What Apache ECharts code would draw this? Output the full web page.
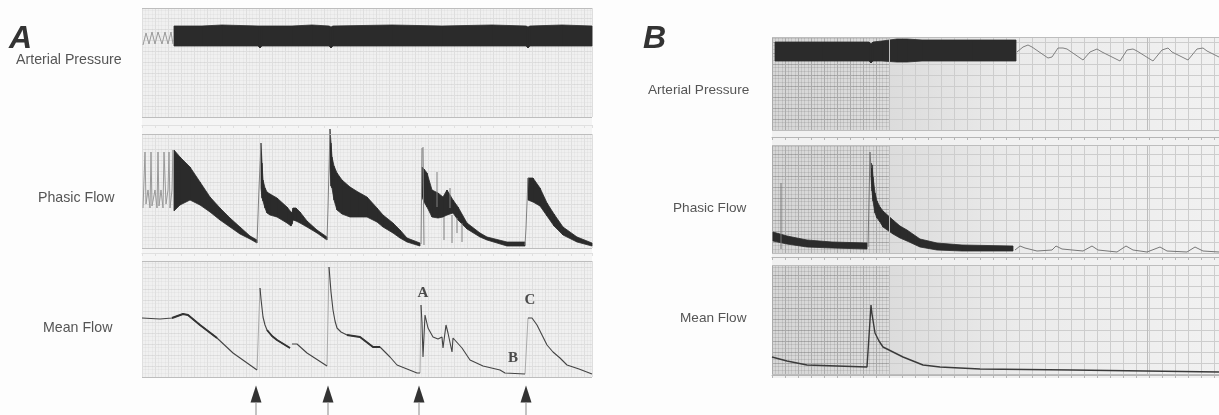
<!DOCTYPE html>
<html><head><meta charset="utf-8">
<style>html,body{margin:0;padding:0;background:#fdfdfd}#c{width:1219px;height:415px;filter:blur(.45px)}</style>
<script src="https://cdn.jsdelivr.net/npm/echarts@6/dist/echarts.min.js"></script>
</head><body><div id="c"></div>
<script>
// All values are in recorder-paper units: [time, level] or [time, lower envelope, upper envelope]
const pressureZigA=[[1,72],[4,84],[7,73],[10,85],[13,73],[16,85],[20,73],[23,85],[26,73],[29,85],[31,73]];
const pressureBandA=[[32,71,91],[60,71,91],[80,71,92],[116,71,91],[118,69,91],[120,71,91],[150,71,91],[170,71,92],[187,71,91],[189,69,90],[191,71,91],[250,71,92],[300,71,91],[350,71,92],[384,71,91],[386,69,90],[388,71,91],[420,71,92],[450,71,91]];
const phasicZigA=[[1,40],[3,96],[4,44],[6,58],[8,40],[9,96],[10,42],[13,58],[15,40],[16,96],[17,42],[19,58],[21,40],[22,96],[24,44],[26,58],[27,96],[28,40],[30,58],[31,98],[31.5,38]];
const phasicBandsA=[
 [[32,37,98],[38,43,91],[48,48,81],[58,43,66],[68,36,51],[78,28,40],[88,21,30],[98,14,21],[108,9,12],[115,5,8]],
 [[119,60,105],[120,50,85],[121,47,68],[123,40,60],[125,35,56],[128,33,54],[135,31,50],[145,25,41],[149,22,36],[150,24,35],[151,28,40],[154,27,40],[158,25,36],[165,21,27],[175,15,18],[185,8,11]],
 [[188,80,119],[189,62,105],[190,60,91],[192,48,82],[195,38,75],[200,34,68],[208,31,61],[216,31,56],[225,31,51],[235,26,40],[241,21,33],[251,15,25],[258,10,18],[265,6,10],[278,2,5]],
 [[280,51,81],[282,46,79],[285,41,75],[290,31,58],[296,30,55],[301,31,51],[305,33,58],[311,35,48],[316,28,41],[325,19,25],[338,11,15],[345,8,11],[365,2,6],[383,2,6]],
 [[386,48,70],[391,46,70],[398,42,60],[405,32,45],[412,22,34],[421,13,21],[435,6,11],[450,2,5]]
];
const gap=[null,null];
const phasicThinA=[[115,5],[117,60],[119,105],gap,[185,8],[186,40],[188,119],gap,[279,4],[280,100],gap,[281,101],[282,3],gap,[295,76],[295,41],gap,[302,8],[302,31],gap,[308,60],[308,40],gap,[310,5],[310,33],gap,[315,15],[315,30],gap,[320,6],[320,25],gap,[383,3],[384,20],[386,70]];
const meanA=[[0,59],[18,58],[30,59],[41,63],[46,62],[58,52],[75,39],[91,24],[115,7],gap,[118,89],[119,78],[121,60],[123,52],[125,47],[130,41],[135,37],[148,29],gap,[150,33],[155,33],[165,24],[185,11],gap,[187,110],[189,85],[191,67],[193,56],[195,49],[199,45],[205,42],[218,40],[231,30],[238,30],[248,20],[255,12],[275,4],[278,4],gap,[279,72],[280,54],[281,20],[283,62],[286,49],[291,40],[296,38],[300,40],[301,29],[304,52],[306,44],[310,25],[311,39],[320,29],[328,17],[341,11],[358,7],[363,4],[383,3],gap,[386,59],[390,59],[395,52],[400,42],[405,32],[411,25],[418,19],[425,12],[437,8],[450,3]];
const meanThickA=[[30,59],[41,63],[46,62],[58,52],[75,39],gap,[125,47],[130,41],[135,37],[148,29],gap,[205,42],[218,40],[231,30],[238,30]];
const meanRisesA=[[115,7],[118,89],gap,[185,11],[187,110],gap,[278,4],[279,72],gap,[383,3],[386,59]];
const eventTimesA=[114,186,277,384];

const pressureBandB=[[3,69,88],[50,69,88],[97,69,88],[99,67,86],[101,69,88],[110,69,89],[125,68,91],[135,68,91],[150,69,90],[200,69,90],[244,69,90]];
const pressureThinB=[[245,78],[251,83],[256,85],[260,83],[276,72],[280,73],[286,82],[291,82],[293,80],[295,81],[311,70],[318,78],[325,81],[330,78],[348,69],[355,80],[361,81],[365,79],[381,69],[390,80],[396,82],[400,78],[416,70],[425,81],[431,82],[435,79],[447,73]];
const phasicBandsB=[
 [[1,12,21],[15,9,17],[35,6,13],[60,5,11],[95,4,10]],
 [[99,77,90],[100,62,88],[101,52,76],[103,40,60],[105,35,52],[108,31,46],[111,26,42],[121,19,33],[128,15,27],[135,12,23],[148,6,14],[165,3,10],[190,2,8],[241,2,7]]
];
const phasicThinB=[[9,4],[9,70],gap,[96,6],[98,101],[99,85],gap,[243,3],[248,7],[253,5],[265,2],[280,3],[284,7],[290,4],[311,2],[320,7],[326,3],[345,1],[354,7],[361,3],[375,1],[388,6],[395,2],[415,1],[423,6],[431,2],[447,1]];
const meanB=[[0,17],[15,13],[35,9],[95,7],[99,69],[100,60],[103,41],[107,33],[111,27],[131,17],[151,9],[168,7],[208,5],[300,4],[447,2]];
const heavyDivisionsB=[117,375];

const INK='#2b2b2b', THIN='#999', PAPER_A='#f0f0f0', MAJOR='#dedede', EDGE='#bdbdbd';
const shadedB={type:'linear',x:0,y:0,x2:1,y2:0,colorStops:[{offset:0,color:'#d6d6d6'},{offset:.26,color:'#dcdcdc'},{offset:.55,color:'#ebebeb'},{offset:1,color:'#f1f1f1'}]};

const grids=[],xAxes=[],yAxes=[],series=[];
function strip(r){
 const i=grids.length;
 grids.push({show:true,left:r.left,top:r.top,width:r.width,height:r.height,borderWidth:0,backgroundColor:r.bg||'transparent'});
 xAxes.push({type:'value',gridIndex:i,min:0,max:r.width,interval:r.xi||13,position:'bottom',offset:r.off||0,
  axisLabel:{show:false},axisLine:{show:!!r.off,onZero:false,lineStyle:{color:r.tickColor||'#c4c4c4',width:1}},
  axisTick:{show:!!r.off,inside:false,length:3,lineStyle:{color:r.tickColor||'#c4c4c4'}},
  splitLine:{show:!r.none,lineStyle:{color:r.major||MAJOR,width:1}},
  minorTick:{show:false,splitNumber:4},minorSplitLine:{show:!!r.minor,lineStyle:{color:r.minor,width:1}}});
 yAxes.push({type:'value',gridIndex:i,min:0,max:r.height,interval:r.yi||11,
  axisLabel:{show:false},axisLine:{show:false},axisTick:{show:false},
  splitLine:{show:!r.none,lineStyle:{color:r.major||MAJOR,width:1}},
  minorTick:{show:false,splitNumber:3},minorSplitLine:{show:!!r.minor,lineStyle:{color:r.minor,width:1}}});
 return i;
}
function band(i,rows){
 series.push({type:'custom',xAxisIndex:i,yAxisIndex:i,coordinateSystem:'cartesian2d',silent:true,clip:false,z:4,
  encode:{x:0,y:[1,2]},data:rows,
  renderItem:function(p,api){
   if(p.dataIndex>=rows.length-1)return null;
   const a=rows[p.dataIndex],b=rows[p.dataIndex+1];
   const pts=[api.coord([a[0],a[2]]),api.coord([b[0],b[2]]),api.coord([b[0],b[1]]),api.coord([a[0],a[1]])];
   return {type:'polygon',shape:{points:pts},style:{fill:INK,stroke:INK,lineWidth:.8}};
  }});
}
function line(i,data,color,width){
 series.push({type:'line',xAxisIndex:i,yAxisIndex:i,data:data,symbol:'none',connectNulls:false,clip:false,z:5,silent:true,
  lineStyle:{color:color,width:width}});
}
function edges(i,top,divisions){
 const marks=[{yAxis:0},{yAxis:top}].concat((divisions||[]).map(v=>({xAxis:v})));
 series.push({type:'line',xAxisIndex:i,yAxisIndex:i,data:[],symbol:'none',silent:true,z:3,
  markLine:{silent:true,symbol:'none',label:{show:false},animation:false,lineStyle:{color:EDGE,width:1,type:'solid'},data:marks}});
}
// Paper behind the strips
strip({left:142,top:8,width:450,height:369,bg:'#f5f5f5',none:true});
strip({left:772,top:37,width:447,height:341,bg:'#f1f1f1',none:true});
// Panel A
const tint='rgba(120,120,120,.05)';
const pa=strip({left:142,top:8,width:450,height:109,bg:PAPER_A,off:8,minor:tint,tickColor:'#e0e0e0'});
const fa=strip({left:142,top:134,width:450,height:114,bg:PAPER_A,off:5,minor:tint,tickColor:'#e0e0e0'});
const ma=strip({left:142,top:261,width:450,height:116,bg:PAPER_A,minor:tint});
edges(pa,109); edges(fa,114); edges(ma,116);
line(pa,pressureZigA,THIN,1); band(pa,pressureBandA);
line(fa,phasicZigA,THIN,1); phasicBandsA.forEach(b=>band(fa,b)); line(fa,phasicThinA,'#808080',1);
line(ma,meanRisesA,'#aaa',1); line(ma,meanA,'#444',1.1); line(ma,meanThickA,'#333',1.9);
const ar=strip({left:142,top:378,width:450,height:37,none:true});
series.push({type:'scatter',xAxisIndex:ar,yAxisIndex:ar,symbol:'rect',symbolSize:[1.4,12],data:eventTimesA.map(t=>[t,6]),itemStyle:{color:'#aaa',opacity:1},silent:true});
series.push({type:'scatter',xAxisIndex:ar,yAxisIndex:ar,symbol:'triangle',symbolSize:[11,17],data:eventTimesA.map(t=>[t,21]),itemStyle:{color:'#333',opacity:1},silent:true});
// Panel B
const pb=strip({left:772,top:37,width:447,height:93,bg:shadedB,off:7,tickColor:'#b5b5b5',major:'#cdcdcd'});
const fb=strip({left:772,top:145,width:447,height:108,bg:shadedB,off:4,tickColor:'#b5b5b5',major:'#cdcdcd'});
const mb=strip({left:772,top:265,width:447,height:109,bg:shadedB,off:1,tickColor:'#b5b5b5',major:'#cdcdcd'});
[[37,93],[145,108],[265,109]].forEach(g=>{
 strip({left:772,top:g[0],width:117,height:g[1],major:'rgba(90,90,90,.3)',minor:'rgba(90,90,90,.15)'});
});
edges(pb,93,heavyDivisionsB); edges(fb,108,heavyDivisionsB); edges(mb,109,heavyDivisionsB);
band(pb,pressureBandB); line(pb,pressureThinB,'#808080',1);
phasicBandsB.forEach(b=>band(fb,b)); line(fb,phasicThinB,'#777',1);
line(mb,meanB,'#3a3a3a',1.4);

const label=(text,x,y,size)=>({type:'text',x:x,y:y,silent:true,z:20,style:{text:text,font:size+'px "Liberation Sans", Arial, sans-serif',fill:'#555',textAlign:'left',textVerticalAlign:'middle'}});
const serif=(text,x,y)=>({type:'text',x:x,y:y,silent:true,z:20,style:{text:text,font:'bold 15px "Liberation Serif", serif',fill:'#4a4a4a',textAlign:'center',textVerticalAlign:'middle'}});
const big=(text,x,y)=>({type:'text',x:x,y:y,silent:true,z:20,style:{text:text,font:'italic bold 32px "Liberation Sans", Arial, sans-serif',fill:'#333',textAlign:'left',textVerticalAlign:'middle'}});
const chart=echarts.init(document.getElementById('c'));
chart.setOption({animation:false,backgroundColor:'#fdfdfd',grid:grids,xAxis:xAxes,yAxis:yAxes,series:series,
 graphic:[big('A',9,39),big('B',643,39),
  label('Arterial Pressure',16,60,14.2),label('Phasic Flow',38,198,14.2),label('Mean Flow',43,328,14.2),
  label('Arterial Pressure',648,90,13.6),label('Phasic Flow',673,208,13.6),label('Mean Flow',680,318,13.6),
  serif('A',423,293),serif('B',513,358),serif('C',530,300)]});
</script></body></html>
